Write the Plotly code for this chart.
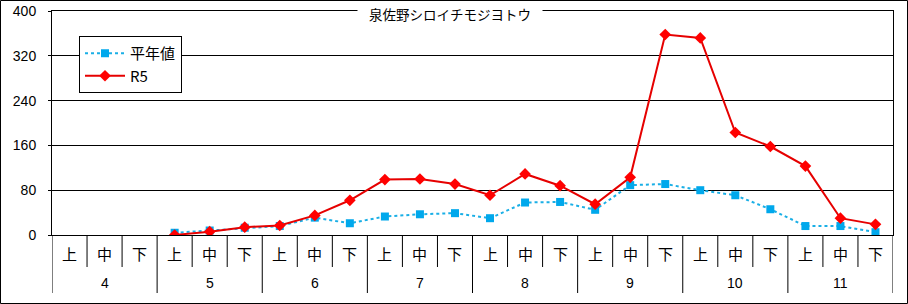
import plotly.graph_objects as go

months = ["4", "5", "6", "7", "8", "9", "10", "11"]
periods = ["上", "中", "下"]
title_text = "泉佐野シロイチモジヨトウ"

heinen = [None, None, None,
          4, 8, 13,
          16, 31, 21,
          33, 37, 39,
          30, 58, 59,
          45, 89, 91,
          80, 71, 46,
          16, 16, 5]
r5 = [None, None, None,
      0, 6, 14,
      17, 35, 62,
      99, 100, 91,
      71, 109, 88,
      55, 103, 358,
      352, 183, 158,
      123, 30, 19]

x_cats = [f"{m}月{p}" for m in months for p in periods]
n = len(x_cats)

fig = go.Figure()
fig.add_trace(go.Scatter(
    x=x_cats, y=heinen, name="平年値", mode="lines+markers",
    line=dict(color="#1AAFE6", width=2, dash="dot"),
    marker=dict(symbol="square", size=8, color="#00A8EC"),
))
fig.add_trace(go.Scatter(
    x=x_cats, y=r5, name="R5", mode="lines+markers",
    line=dict(color="#E60000", width=2),
    marker=dict(symbol="diamond", size=9, color="#FF0000"),
))

W, H = 908, 304
L, R, T, B = 52, 15, 11, 69
pw, ph = W - L - R, H - T - B


def py(px):
    """pixel row -> paper y"""
    return (T + ph - px) / ph


fig.update_layout(
    width=W, height=H,
    margin=dict(l=L, r=R, t=T, b=B),
    paper_bgcolor="white", plot_bgcolor="white",
    font=dict(family="Liberation Sans, Noto Sans CJK JP", size=13, color="black"),
    showlegend=True,
    legend=dict(
        x=(79 - L) / pw, y=py(36), xanchor="left", yanchor="top",
        bgcolor="white", bordercolor="black", borderwidth=1,
        font=dict(family="Noto Sans CJK JP, Liberation Sans", size=15),
        tracegroupgap=0, itemwidth=40,
    ),
    xaxis=dict(
        type="category", range=[-0.5, n - 0.5],
        showline=True, linecolor="black", linewidth=1, mirror=True,
        ticks="", showticklabels=False, showgrid=False, zeroline=False,
        automargin=False, fixedrange=True,
    ),
    yaxis=dict(
        range=[0, 400], dtick=80, tick0=0,
        showline=True, linecolor="black", linewidth=1, mirror=True,
        showgrid=True, gridcolor="black", gridwidth=1,
        ticks="outside", ticklen=3, tickcolor="black", ticklabelstandoff=9,
        zeroline=False, automargin=False,
        tickfont=dict(family="Liberation Sans", size=14),
    ),
)

# period labels and boundaries
for i, c in enumerate(x_cats):
    fig.add_annotation(
        text=periods[i % len(periods)], xref="x", yref="paper",
        x=c, y=py(253), xanchor="center", yanchor="middle", showarrow=False,
        font=dict(family="Noto Sans CJK JP", size=15, color="black"),
    )
for i in range(n + 1):
    long = (i % len(periods) == 0)
    fig.add_shape(
        type="line", xref="x", yref="paper",
        x0=i - 0.5, x1=i - 0.5, y0=0, y1=py(293 if long else 267),
        line=dict(color="black", width=1),
    )
# month labels
for j, m in enumerate(months):
    fig.add_annotation(
        text=m, xref="x", yref="paper",
        x=x_cats[j * len(periods) + 1], y=py(283), xanchor="center", yanchor="middle",
        showarrow=False, font=dict(family="Liberation Sans", size=14, color="black"),
    )

fig.add_annotation(
    text=title_text, xref="paper", yref="paper",
    x=(450 - L) / pw, y=py(14), xanchor="center", yanchor="middle",
    showarrow=False, bgcolor="white", borderpad=1, width=182, height=18,
    font=dict(family="Noto Sans CJK JP", size=13.5, color="black"),
)

fig.add_shape(
    type="rect", xref="paper", yref="paper",
    x0=(0.5 - L) / pw, x1=(W - 0.5 - L) / pw,
    y0=py(H - 0.5), y1=py(0.5),
    line=dict(color="black", width=1), fillcolor="rgba(0,0,0,0)", layer="above",
)

fig.write_html("out.html")
